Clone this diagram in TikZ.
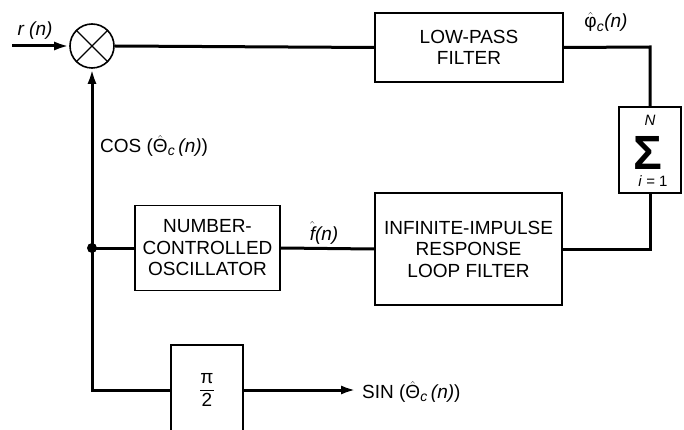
\documentclass[tikz,border=0pt]{standalone}
\usepackage{fontspec}
\setmainfont{Liberation Sans}
\usetikzlibrary{arrows.meta}
\newcommand\subc{\mbox{\fontsize{14}{14}\selectfont\itshape c}}
\newcommand\hatbox[1]{\ensuremath{\hat{\mbox{#1}}}}
\begin{document}
\begin{tikzpicture}[x=1pt,y=-1pt,
  blk/.style={draw,line width=1.8pt,inner sep=0pt,align=center,font=\fontsize{19}{21.5}\selectfont},
  wire/.style={line width=3pt},
  arr/.style={line width=3pt,-{Latex[length=15pt,width=9pt]}},
  lbl/.style={inner sep=0pt,font=\fontsize{19}{21}\selectfont}]
\useasboundingbox (0,0) rectangle (684,430);
\begin{scope}
\clip (0,0) rectangle (684,430);
\node[blk,minimum width=72pt,minimum height=90pt] (pi) at (207,390) {$\displaystyle\frac{\mbox{π}}{\mbox{2}}$};
\end{scope}
\node[draw,circle,line width=1.6pt,minimum size=44pt,inner sep=0pt] (mult) at (92,46) {};
\draw[line width=1.3pt] (mult.45) -- (mult.225) (mult.135) -- (mult.315);
\node[blk,minimum width=188pt,minimum height=69pt] (lpf) at (469,47.5) {LOW-PASS\\FILTER};
\node[blk,minimum width=62pt,minimum height=86pt] (sum) at (650,150) {};
\node[inner sep=0pt,font=\fontsize{48}{48}\selectfont\bfseries] (sigma) at (648,153) {Σ};
\node[inner sep=0pt,font=\fontsize{15}{15}\selectfont\itshape] (sn) at (650,120) {N};
\node[inner sep=0pt,font=\fontsize{15}{15}\selectfont] (si) at (653,181) {\textit{i} = 1};
\node[blk,minimum width=187pt,minimum height=112pt] (iir) at (468.5,249) {INFINITE-IMPULSE\\RESPONSE\\LOOP FILTER};
\node[blk,minimum width=145pt,minimum height=85pt] (nco) at (207.5,248) {NUMBER-\\CONTROLLED\\OSCILLATOR};
\coordinate (rin) at (12,46);
\coordinate (jn) at (92,248);
\coordinate (jb) at (92,390);
\coordinate (sout) at (356,390);
\coordinate (tr) at (650,47);
\coordinate (br) at (650,249);
\draw[arr] (rin) -- (mult.west);
\draw[wire] (mult.east) -- (lpf.west);
\draw[wire] (lpf.east) -- (tr) -- (sum.north);
\draw[wire] (sum.south) -- (br) -- (iir.east);
\draw[wire] (iir.west) -- (nco.east);
\draw[wire] (nco.west) -- (jn);
\draw[arr] (jn) -- (mult.south);
\draw[wire] (jn) -- (jb) -- (pi.west);
\draw[arr] (pi.east) -- (sout);
\fill (jn) circle (5pt);
\node[lbl,font=\fontsize{19}{21}\selectfont\itshape] (lr) at (35,31) {r (n)};
\node[lbl] (lphi) at (606,22) {$\hatbox{φ}_{\subc}$\textit{(n)}};
\node[lbl,anchor=west] (lcos) at (100,146) {COS (\hatbox{Θ}$_{\subc}$\,\textit{(n)})};
\node[lbl,font=\fontsize{19}{21}\selectfont\itshape] (lf) at (324,233) {\hatbox{\itshape f}(n)};
\node[lbl,anchor=west] (lsin) at (362,392) {SIN (\hatbox{Θ}$_{\subc}$\,\textit{(n)})};
\end{tikzpicture}
\end{document}
